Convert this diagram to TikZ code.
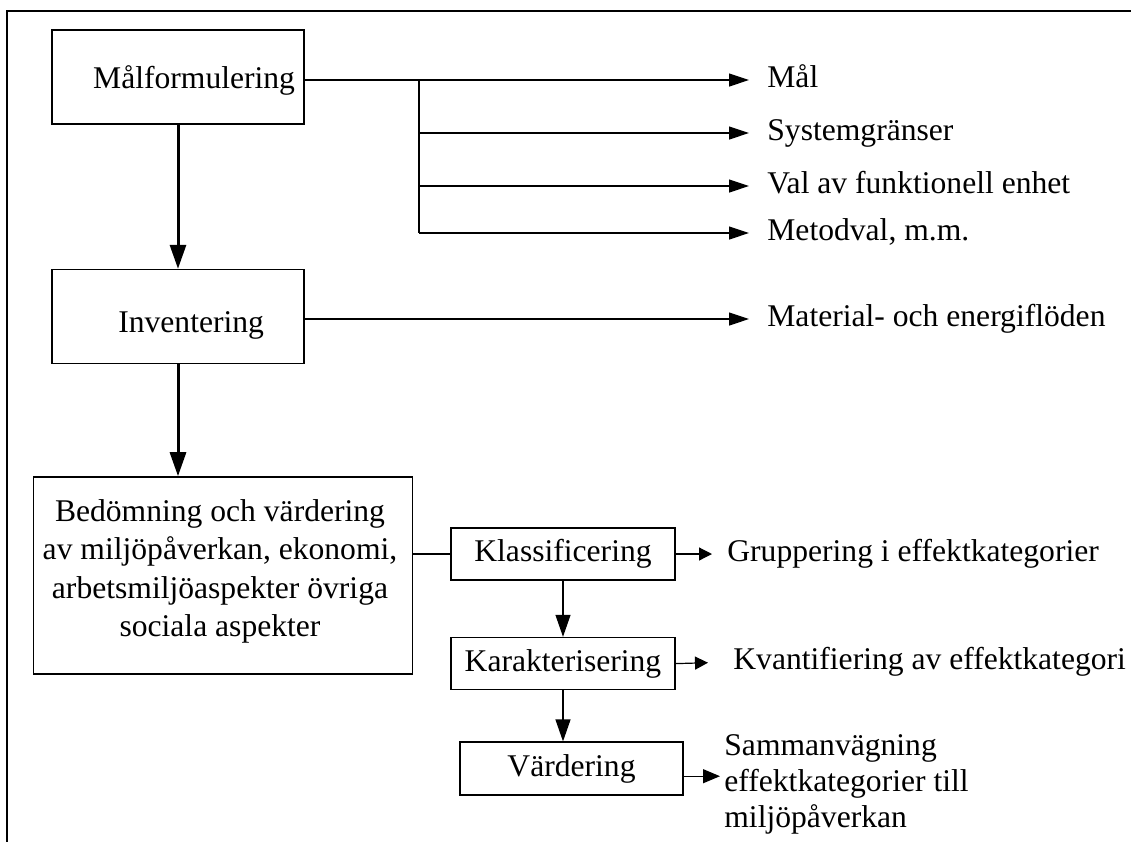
\documentclass[tikz,border=0pt]{standalone}
\usepackage{fontspec}
\setmainfont{Liberation Serif}
\usetikzlibrary{arrows.meta, positioning}
\tikzset{
	>={Triangle[length=12pt, width=8pt]}, % Punta gruesa de las flechas principales
	caja/.style={draw, line width=0.8pt, inner sep=0pt, minimum width=126pt, minimum height=47pt}, % Cajas grandes
	cajita/.style={draw, line width=0.8pt, inner sep=0pt, minimum width=112pt, minimum height=26pt}, % Cajas chicas
	paso/.style={->, line width=1.5pt}, % Flechas entre etapas
	fina/.style={-{Triangle[length=11pt, width=7.5pt]}, line width=0.6pt}, % Flechas entre subetapas
	salida/.style={-{Triangle[length=10pt, width=6.5pt]}, line width=0.6pt, shorten >=9pt}, % Flechas hacia los resultados
	corta/.style={-{Triangle[length=6.5pt, width=6.5pt]}, line width=0.6pt}, % Flechas cortas
	texto/.style={anchor=west, inner sep=0pt, text height=0.72em, text depth=0pt} % Textos de resultado
}

\begin{document}
\begin{tikzpicture}[x=0.5pt, y=-0.5pt, font=\fontsize{15.8}{19.2}\selectfont]
	\useasboundingbox (0,0) rectangle (1131,842);
	\draw[line width=0.6pt] (1131,11) -- (7,11) -- (7,842);

	\node[caja, text width=117pt, align=right, text height=11.4pt, text depth=0pt] (malf) at (178,77) {Målformulering};
	\node[caja, text width=86pt, inner xsep=20pt, align=right, text height=15.5pt, text depth=0pt, below=72pt of malf] (inv) {Inventering};
	\node[caja, minimum width=189.5pt, minimum height=98.5pt] (bed) at (223,575.5) {};
	\node[align=center, anchor=north, inner sep=0pt] (bedtxt) at ([xshift=-1.5pt, yshift=-11.5pt]bed.north)
		{Bedömning och värdering\\av miljöpåverkan, ekonomi,\\arbetsmiljöaspekter övriga\\sociala aspekter};

	\node[cajita] (klass) at (563,554) {Klassificering};
	\node[cajita, below=28pt of klass] (kar) {Karakterisering};
	\node[cajita, minimum width=111.5pt, minimum height=26.5pt, below=25.5pt of kar, xshift=4.25pt] (vard) {Värdering};

	\node[texto] (mal) at (767,80) {Mål};
	\node[texto] (sys) at (767,133) {Systemgränser};
	\node[texto] (val) at (767,186) {Val av funktionell enhet};
	\node[texto] (met) at (767,233) {Metodval, m.m.};
	\node[texto] (mat) at (767,319) {Material- och energiflöden};
	\node[texto] (grup) at (727,554) {Gruppering i effektkategorier};
	\node[texto] (kvant) at (733,662) {Kvantifiering av effektkategori};
	\node[anchor=north west, inner sep=0pt, align=left, font=\fontsize{15.8}{18}\selectfont] (samm) at (724,734)
		{Sammanvägning\\effektkategorier till\\miljöpåverkan};

	\coordinate (fork) at (419,80);
	\draw[line width=0.6pt] (malf.east |- fork) -- (fork) -- (fork |- met.west);
	\foreach \t in {mal, sys, val, met}
		\draw[salida] (fork |- \t.west) -- (\t.west);
	\draw[salida] (inv.east |- mat.west) -- (mat.west);

	\draw[paso] (malf) -- (inv);
	\draw[paso] (inv.south) -- (inv.south |- bed.north);

	\draw[line width=0.6pt] (bed.east |- klass.west) -- (klass.west);
	\draw[fina] (klass) -- (kar);
	\draw[fina] (kar.south) -- (kar.south |- vard.north);

	\draw[corta, shorten >=7.5pt] (klass.east) -- (grup.west);
	\draw[corta, shorten >=12.5pt] (kar.east) -- (kvant.west);
	\draw[corta, -{Triangle[length=8.5pt, width=7pt]}, shorten >=2pt] ([yshift=-3.75pt]vard.east) -- ([yshift=-3.75pt]vard.east -| samm.west);
\end{tikzpicture}
\end{document}
